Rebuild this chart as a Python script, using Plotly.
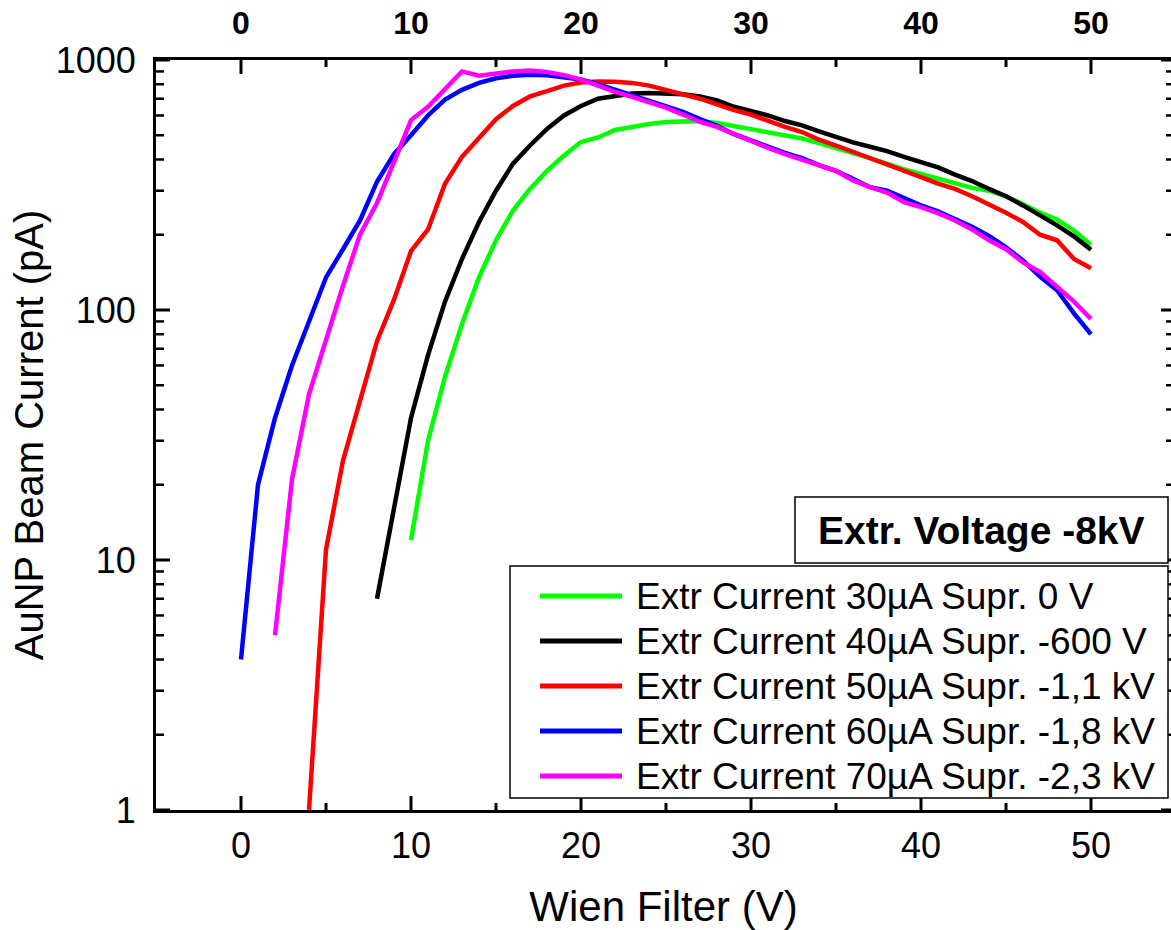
import plotly.graph_objects as go

# ---------------- data ----------------
x_green = list(range(10, 51))
y_green = [12, 30, 54, 88, 135, 190, 250, 305, 360, 415, 470, 490, 525, 540, 555, 565,
           570, 570, 560, 545, 530, 515, 500, 485, 465, 445, 425, 405, 385, 365, 350,
           335, 320, 308, 300, 285, 265, 245, 230, 208, 182]

x_black = list(range(8, 51))
y_black = [7, 16, 37, 66, 108, 160, 225, 300, 385, 455, 530, 600, 655, 700, 720, 735,
           738, 737, 730, 715, 690, 650, 625, 600, 570, 548, 518, 490, 468, 450, 432,
           410, 392, 372, 348, 328, 305, 285, 262, 240, 218, 197, 174]

x_red = list(range(4, 51))
y_red = [1.0, 11, 25, 44, 75, 110, 172, 210, 320, 410, 490, 580, 655, 715, 750, 790,
         812, 820, 818, 810, 790, 760, 730, 700, 665, 630, 605, 570, 540, 515, 480,
         455, 430, 405, 380, 360, 340, 320, 305, 285, 265, 245, 225, 200, 190, 160, 147]

x_blue = list(range(0, 51))
y_blue = [4, 20, 37, 60, 90, 135, 175, 228, 326, 420, 500, 600, 695, 760, 810, 845,
          865, 872, 868, 855, 835, 800, 760, 720, 690, 655, 620, 580, 545, 505, 475,
          450, 425, 405, 380, 360, 335, 310, 300, 280, 262, 248, 232, 215, 198, 178,
          158, 136, 120, 97, 80]

x_magenta = list(range(2, 51))
y_magenta = [5, 21, 46, 76, 125, 200, 268, 390, 575, 650, 760, 900, 865, 885, 900, 908,
             895, 870, 835, 790, 745, 712, 680, 645, 605, 565, 540, 505, 475, 445, 420,
             400, 380, 360, 330, 310, 295, 270, 258, 244, 228, 210, 190, 175, 155, 142,
             124, 108, 92]

series_names = [
    "Extr Current 30µA Supr. 0 V",
    "Extr Current 40µA Supr. -600 V",
    "Extr Current 50µA Supr. -1,1 kV",
    "Extr Current 60µA Supr. -1,8 kV",
    "Extr Current 70µA Supr. -2,3 kV",
]
series_colors = ["#00ff00", "#000000", "#ff0000", "#0000ff", "#ff00ff"]
series_x = [x_green, x_black, x_red, x_blue, x_magenta]
series_y = [y_green, y_black, y_red, y_blue, y_magenta]

x_ticks = [0, 10, 20, 30, 40, 50]
x_minor = [5, 15, 25, 35, 45]
y_ticks = [1, 10, 100, 1000]
y_ticktext = ["1", "10", "100", "1000"]
y_minor = [m * 10 ** k for k in range(3) for m in range(2, 10)]

annotation_text = "Extr. Voltage -8kV"

# ---------------- layout helpers ----------------
W, H = 1171, 930
ML, MR, MT, MB = 156, 0, 60, 120
PW, PH = W - ML - MR, H - MT - MB
FONT = "Liberation Sans, Arial, sans-serif"
PX_PER_X = 17.0                 # pixels per x unit
PX_PER_DECADE = PH / 3.0        # pixels per decade on the log axis


def px(v):
    return (v - ML) / PW


def py(v):
    return (H - MB - v) / PH


x_range = [-5, -5 + PW / PX_PER_X]
y_range = [0, 3]
y_lo, y_hi = 10 ** y_range[0], 10 ** y_range[1]

fig = go.Figure()
for name, col, xs, ys in zip(series_names, series_colors, series_x, series_y):
    fig.add_trace(go.Scatter(x=xs, y=ys, mode="lines", name=name,
                             line=dict(color=col, width=4.5), showlegend=False))

# ---- inward tick marks, built from the tick arrays (lengths in pixels) ----
def x_tick_segments(vals, length):
    fy = 10 ** (length / PX_PER_DECADE)
    xs, ys = [], []
    for v in vals:
        xs += [v, v, None, v, v, None]
        ys += [y_lo, y_lo * fy, None, y_hi / fy, y_hi, None]
    return xs, ys


def y_tick_segments(vals, len_left, len_right):
    xs, ys = [], []
    for v in vals:
        xs += [x_range[0], x_range[0] + len_left / PX_PER_X, None,
               x_range[1] - len_right / PX_PER_X, x_range[1], None]
        ys += [v, v, None, v, v, None]
    return xs, ys


for (xs, ys), w in [(x_tick_segments(x_ticks, 14), 3),
                    (x_tick_segments(x_minor, 7), 3),
                    (y_tick_segments(y_ticks, 14, 10), 3),
                    (y_tick_segments(y_minor, 8, 5), 2.5)]:
    fig.add_trace(go.Scatter(x=xs, y=ys, mode="lines", showlegend=False,
                             hoverinfo="skip", cliponaxis=False,
                             line=dict(color="black", width=w)))

# empty helper trace so that the mirrored top axis gets drawn
fig.add_trace(go.Scatter(x=[], y=[], xaxis="x2", yaxis="y2", mode="lines",
                         showlegend=False, hoverinfo="skip"))

# ---- manual legend (long line samples as in the original) ----
shapes = [
    dict(type="rect", xref="paper", yref="paper", x0=px(510), x1=px(1168),
         y0=py(798), y1=py(566), line=dict(color="black", width=1.5),
         fillcolor="white", layer="above"),
    dict(type="rect", xref="paper", yref="paper", x0=px(795), x1=px(1168),
         y0=py(563), y1=py(497), line=dict(color="black", width=1.5),
         fillcolor="white", layer="above"),
]
annotations = []
row_y = [596, 641, 686, 731, 776]
for name, col, ry in zip(series_names, series_colors, row_y):
    shapes.append(dict(type="line", xref="paper", yref="paper", x0=px(540), x1=px(622),
                       y0=py(ry), y1=py(ry), line=dict(color=col, width=5), layer="above"))
    annotations.append(dict(xref="paper", yref="paper", x=px(634), y=py(ry),
                            xanchor="left", yanchor="middle", showarrow=False,
                            text=name, font=dict(family=FONT, size=37, color="black")))
annotations.append(dict(xref="paper", yref="paper", x=px(981), y=py(530),
                        xanchor="center", yanchor="middle", showarrow=False,
                        text="<b>" + annotation_text + "</b>",
                        font=dict(family=FONT, size=39, color="black")))

base = dict(showgrid=False, zeroline=False)
line_ax = dict(**base, showline=True, linecolor="black", linewidth=3, ticks="")

fig.update_layout(
    width=W, height=H,
    margin=dict(l=ML, r=MR, t=MT, b=MB),
    paper_bgcolor="white", plot_bgcolor="white",
    font=dict(family=FONT, color="black"),
    showlegend=False,
    xaxis=dict(**line_ax, range=x_range, tickmode="array", tickvals=x_ticks,
               tickfont=dict(size=36), ticklabelstandoff=2,
               title=dict(text="Wien Filter (V)", font=dict(size=42), standoff=28)),
    xaxis2=dict(**line_ax, overlaying="x", side="top", anchor="y", range=x_range,
                tickmode="array", tickvals=x_ticks, ticklabelstandoff=10,
                tickfont=dict(size=32, weight="bold")),
    yaxis=dict(**line_ax, type="log", range=y_range, tickmode="array",
               tickvals=y_ticks, ticktext=y_ticktext,
               tickfont=dict(size=36), ticklabelstandoff=10,
               title=dict(text="AuNP Beam Current (pA)", font=dict(size=40), standoff=0)),
    yaxis2=dict(**base, showline=False, showticklabels=False, ticks="",
                overlaying="y", side="right", anchor="x", type="log", range=y_range),
    shapes=shapes,
    annotations=annotations,
)

fig.write_html("out.html")
